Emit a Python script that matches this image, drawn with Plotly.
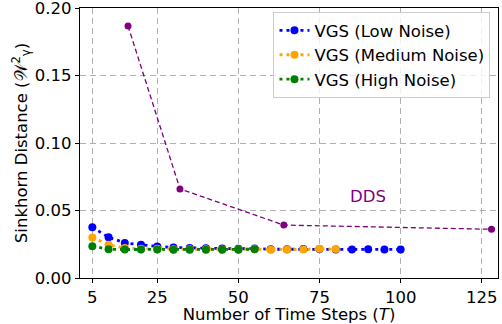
import plotly.graph_objects as go

# Data
steps_low = [5, 10, 15, 20, 25, 30, 35, 40, 45, 50, 55, 60, 65, 70, 75, 80, 85, 90, 95, 100]
vgs_low = [0.0376, 0.0302, 0.0260, 0.0246, 0.0233, 0.0226, 0.0222, 0.0220, 0.0218, 0.0216,
           0.0218, 0.0213, 0.0213, 0.0215, 0.0215, 0.0212, 0.0212, 0.0213, 0.0211, 0.0212]
steps_med = [5, 10, 15, 20, 25, 30, 35, 40, 45, 50, 55, 60, 65, 70, 75, 80]
vgs_med = [0.0300, 0.0246, 0.0222, 0.0216, 0.0216, 0.0213, 0.0213, 0.0213, 0.0212, 0.0212,
           0.0214, 0.0210, 0.0211, 0.0211, 0.0216, 0.0214]
steps_high = [5, 10, 15, 20, 25, 30, 35, 40, 45, 50, 55]
vgs_high = [0.0236, 0.0213, 0.0211, 0.0211, 0.0212, 0.0210, 0.0210, 0.0209, 0.0210, 0.0209, 0.0213]
steps_dds = [16, 32, 64, 128]
dds = [0.1867, 0.0660, 0.0392, 0.0361]

x_ticks = [5, 25, 50, 75, 100, 125]
y_ticks = [0.00, 0.05, 0.10, 0.15, 0.20]

FONT = "DejaVu Sans"
FS = 16.5

fig = go.Figure()
fig.add_trace(go.Scatter(x=steps_dds, y=dds, mode="lines+markers", showlegend=False,
                         line=dict(color="purple", width=1.3, dash="5px,3px"),
                         marker=dict(color="purple", size=7)))
for xs, ys, col, name in [
    (steps_low, vgs_low, "blue", "VGS (Low Noise)"),
    (steps_med, vgs_med, "orange", "VGS (Medium Noise)"),
    (steps_high, vgs_high, "green", "VGS (High Noise)"),
]:
    fig.add_trace(go.Scatter(x=xs, y=ys, mode="lines+markers", name=name,
                             line=dict(color=col, width=2.8, dash="3px,4px"),
                             marker=dict(color=col, size=8)))

fig.add_annotation(x=90, y=0.0603, text="DDS", showarrow=False,
                   font=dict(family=FONT, size=FS, color="purple"))

axis_common = dict(showline=True, linecolor="black", linewidth=1.2, mirror=True,
                   ticks="outside", ticklen=4, tickcolor="black", tickwidth=1.2,
                   showgrid=True, gridcolor="#b0b0b0", griddash="6px,4px", gridwidth=1.2,
                   zeroline=False, automargin=False, ticklabeloverflow="allow",
                   tickfont=dict(family=FONT, size=FS, color="black"))

fig.update_layout(
    template="none",
    width=502, height=324,
    margin=dict(l=80, r=4, t=8, b=46, pad=0),
    paper_bgcolor="white", plot_bgcolor="white",
    font=dict(family=FONT, size=FS, color="black"),
    xaxis=dict(range=[1.2, 130], tickvals=x_ticks,
               title=dict(text="Number of Time Steps (<i>T</i>)", standoff=5,
                          font=dict(family=FONT, size=FS)),
               **axis_common),
    yaxis=dict(range=[0, 0.2], tickvals=y_ticks, tickformat=".2f",
               title=dict(text="Sinkhorn Distance (𝒲<sup>2</sup><sub>γ</sub>)", standoff=3,
                          font=dict(family=FONT, size=FS)),
               **axis_common),
    legend=dict(x=0.982, y=0.985, xanchor="right", yanchor="top",
                bgcolor="rgba(255,255,255,0.8)", bordercolor="#cccccc", borderwidth=1,
                font=dict(family=FONT, size=FS), tracegroupgap=0, itemwidth=30),
)

fig.write_html("out.html", config={"responsive": False, "displayModeBar": False},
               post_script="document.body.style.margin='0';document.body.style.overflow='hidden';")
